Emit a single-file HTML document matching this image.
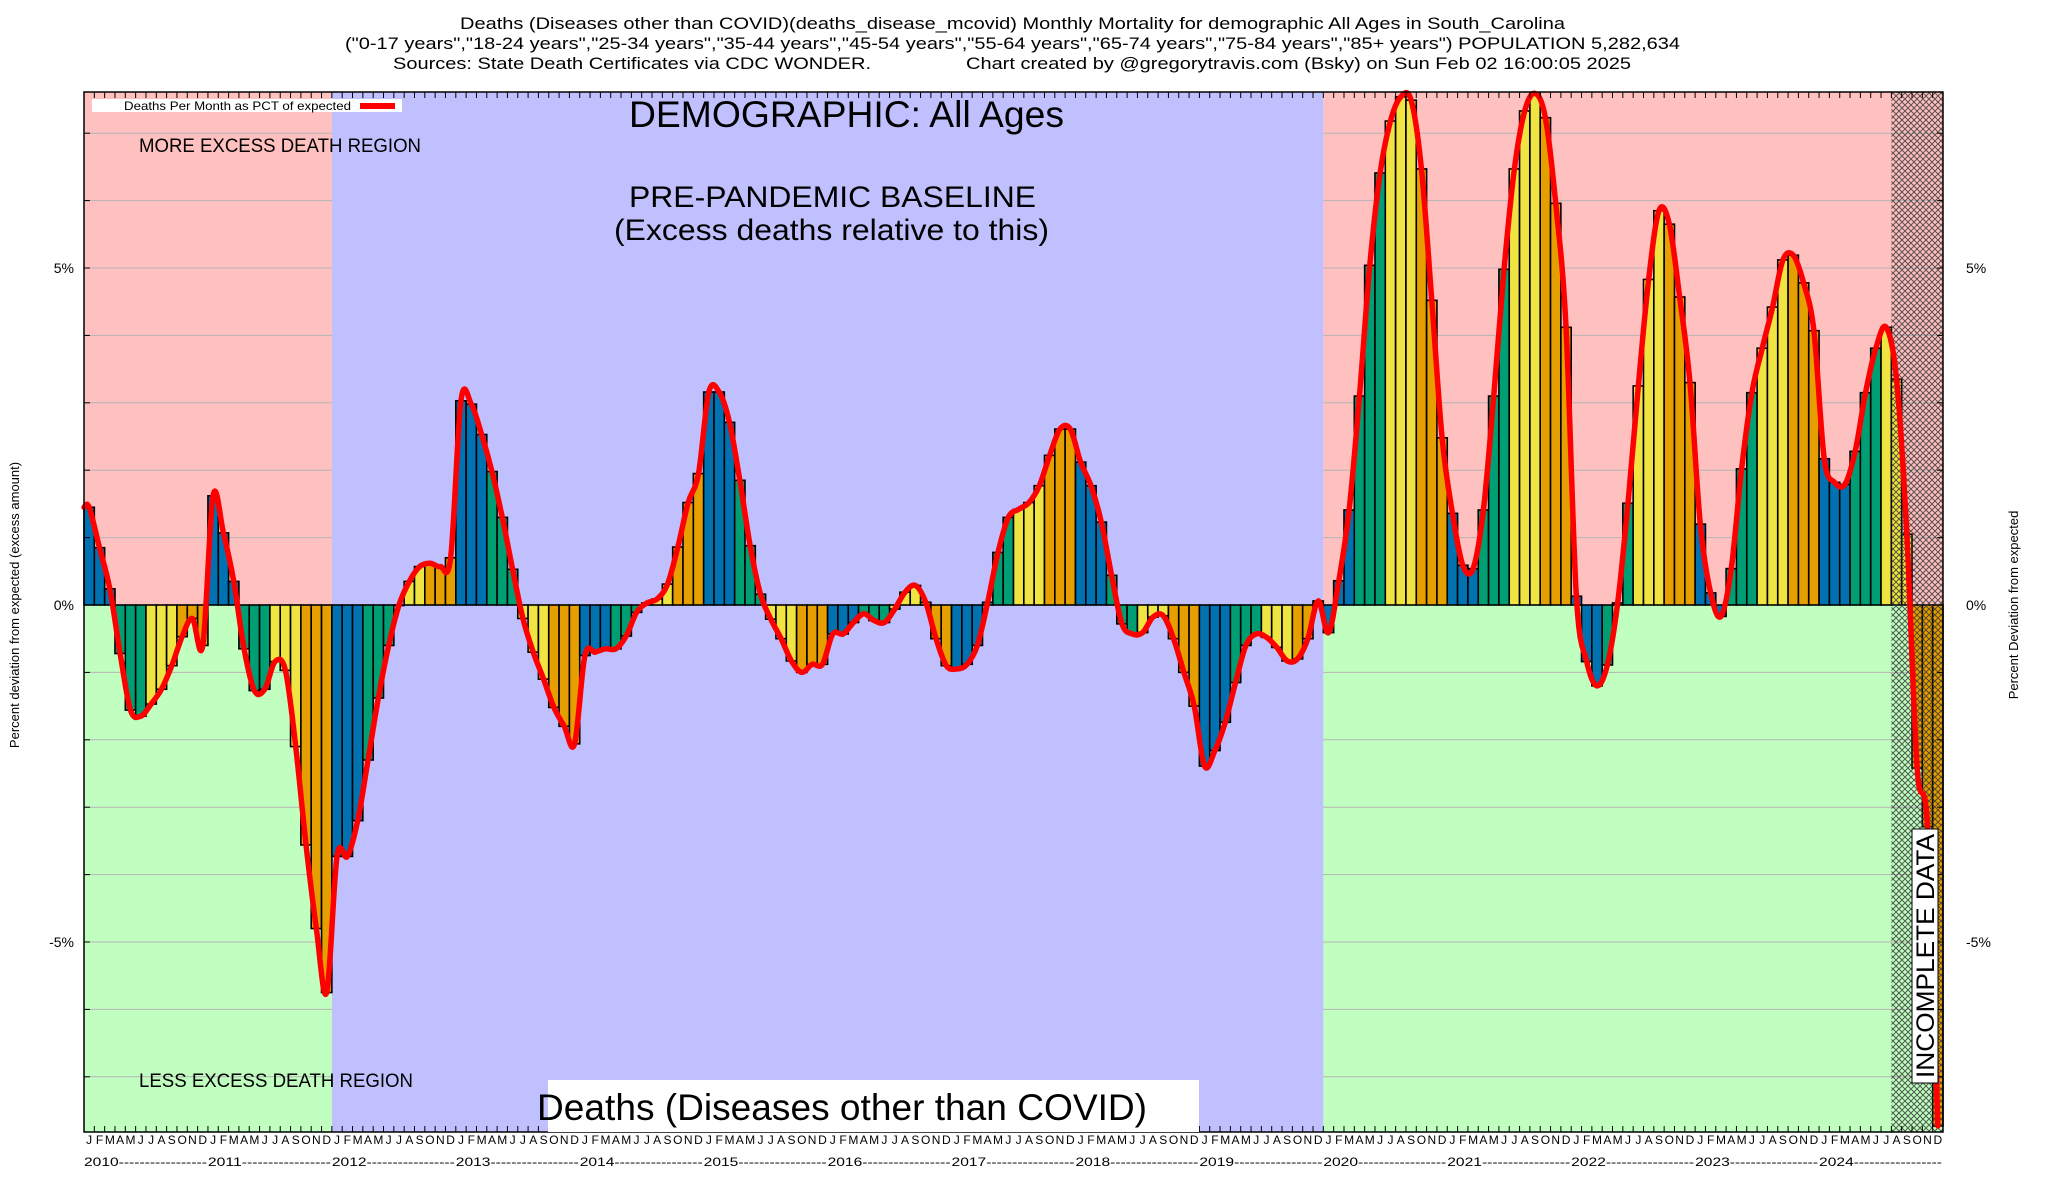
<!DOCTYPE html>
<html><head><meta charset="utf-8"><style>
html,body{margin:0;padding:0;background:#fff;}
svg{display:block;font-family:"Liberation Sans",Arial,sans-serif;}
</style></head><body>
<svg id="chart" width="2048" height="1200" viewBox="0 0 2048 1200" xmlns="http://www.w3.org/2000/svg">
<defs>
<pattern id="hatch" width="6" height="6" patternUnits="userSpaceOnUse">
<path d="M0,0 L6,6 M6,0 L0,6" stroke="#333" stroke-width="1"/>
</pattern>
</defs>
<g font-size="17" fill="#000">
<text x="460" y="29" textLength="1105" lengthAdjust="spacingAndGlyphs">Deaths (Diseases other than COVID)(deaths_disease_mcovid) Monthly Mortality for demographic All Ages in South_Carolina</text>
<text x="345" y="49" textLength="1335" lengthAdjust="spacingAndGlyphs">("0-17 years","18-24 years","25-34 years","35-44 years","45-54 years","55-64 years","65-74 years","75-84 years","85+ years") POPULATION 5,282,634</text>
<text x="393" y="69" textLength="478" lengthAdjust="spacingAndGlyphs">Sources: State Death Certificates via CDC WONDER.</text>
<text x="966" y="69" textLength="665" lengthAdjust="spacingAndGlyphs">Chart created by @gregorytravis.com (Bsky) on Sun Feb 02 16:00:05 2025</text>
</g>
<g id="bg"></g>
<g id="grid"></g>
<g id="bgblue"></g>
<g id="bars"></g>
<g id="hatchg"></g>
<g id="line"></g>
<g id="axes"></g>
<g fill="#000">
<rect x="92" y="99" width="310" height="13" fill="#fff"/>
<text x="124" y="110" font-size="12" textLength="227" lengthAdjust="spacingAndGlyphs">Deaths Per Month as PCT of expected</text>
<rect x="360" y="103" width="35" height="6" fill="#ff0000"/>
<text x="139" y="152" font-size="19" textLength="282" lengthAdjust="spacingAndGlyphs">MORE EXCESS DEATH REGION</text>
<text x="629" y="127" font-size="37" textLength="435" lengthAdjust="spacingAndGlyphs">DEMOGRAPHIC: All Ages</text>
<text x="629" y="207" font-size="30" textLength="407" lengthAdjust="spacingAndGlyphs">PRE-PANDEMIC BASELINE</text>
<text x="614" y="240" font-size="30" textLength="435" lengthAdjust="spacingAndGlyphs">(Excess deaths relative to this)</text>
<text x="139" y="1087" font-size="19" textLength="274" lengthAdjust="spacingAndGlyphs">LESS EXCESS DEATH REGION</text>
<rect x="548" y="1080" width="651" height="52" fill="#fff"/>
<text x="537" y="1120" font-size="37" textLength="610" lengthAdjust="spacingAndGlyphs">Deaths (Diseases other than COVID)</text>
<g transform="translate(1925,956) rotate(-90)">
<rect x="-127" y="-13" width="254" height="26" fill="#fff" stroke="#000" stroke-width="1"/>
<text x="0" y="9" font-size="25" text-anchor="middle" textLength="244" lengthAdjust="spacingAndGlyphs">INCOMPLETE DATA</text>
</g>
<text transform="translate(19,605) rotate(-90)" font-size="13" text-anchor="middle">Percent deviation from expected (excess amount)</text>
<text transform="translate(2018,605) rotate(-90)" font-size="13" text-anchor="middle">Percent Deviation from expected</text>
</g>
</svg>
<script>
const startYear = 2010;
const monthLetters = ["J","F","M","A","M","J","J","A","S","O","N","D"];
const yTickValues = [-5, 0, 5];
const yTickLabels = ["-5%", "0%", "5%"];
const values2010_2013 = [1.45,0.85,0.24,-0.72,-1.56,-1.65,-1.47,-1.25,-0.9,-0.47,-0.2,-0.6,
 1.62,1.07,0.35,-0.65,-1.27,-1.25,-0.84,-0.97,-2.1,-3.56,-4.8,-5.75,
 -3.73,-3.73,-3.2,-2.3,-1.38,-0.6,0.0,0.35,0.57,0.62,0.57,0.7,
 3.03,2.98,2.53,1.98,1.3,0.53,-0.2,-0.7,-1.1,-1.52,-1.8,-2.06];
const values2014_2017 = [-0.75,-0.7,-0.65,-0.65,-0.46,-0.11,0.03,0.09,0.31,0.86,1.52,1.95,
 3.16,3.16,2.71,1.85,0.88,0.16,-0.21,-0.5,-0.83,-1.0,-0.88,-0.88,
 -0.43,-0.43,-0.26,-0.13,-0.23,-0.26,-0.06,0.19,0.29,0.04,-0.5,-0.9,
 -0.95,-0.88,-0.6,0.04,0.78,1.3,1.42,1.52,1.77,2.22,2.61,2.61];
const values2018_2020 = [2.12,1.77,1.23,0.44,-0.28,-0.43,-0.41,-0.18,-0.16,-0.5,-1.0,-1.5,
 -2.39,-2.16,-1.74,-1.15,-0.6,-0.43,-0.48,-0.63,-0.83,-0.8,-0.5,0.06,
 -0.41,0.36,1.41,3.1,5.04,6.41,7.18,7.54,7.49,6.47,4.52,2.48];
const values2021_2024 = [1.36,0.59,0.54,1.41,3.1,4.98,6.47,7.33,7.59,7.23,5.96,4.12,
 0.13,-0.84,-1.2,-0.89,0.03,1.51,3.25,4.83,5.85,5.65,4.57,3.3,
 1.2,0.18,-0.17,0.54,2.02,3.15,3.81,4.42,5.12,5.19,4.78,4.07,
 2.17,1.82,1.79,2.28,3.15,3.81,4.12,3.35,1.05,-2.42,-3.29,-7.73];
const values = values2010_2013.concat(values2014_2017, values2018_2020, values2021_2024);
const baselineStart = 24, baselineEnd = 120, incompleteStart = 175;

const NS = "http://www.w3.org/2000/svg";
const L = 84, R = 1943, T = 92, B = 1132, Y0 = 605, PPU = 67.4;
const N = values.length;
const mw = (R - L) / N;
const xs = i => L + mw * i;
const xc = i => L + mw * (i + 0.5);
const ys = v => Y0 - v * PPU;
function mk(tag, attrs, parent) {
  const e = document.createElementNS(NS, tag);
  for (const k in attrs) e.setAttribute(k, attrs[k]);
  parent.appendChild(e);
  return e;
}
const bg = document.getElementById('bg');
[[0, baselineStart], [baselineEnd, N]].forEach(([a, b]) => {
  const p = mk('rect', {x: xs(a), y: T, width: xs(b) - xs(a), height: Y0 - T, fill: '#ffc0c0'}, bg);
  
  
  const g = mk('rect', {x: xs(a), y: Y0, width: xs(b) - xs(a), height: B - Y0, fill: '#c0ffc0'}, bg);
  
  
});
const grid = document.getElementById('grid');
for (let v = -7; v <= 7; v++) {
  if (v === 0) continue;
  const l = mk('line', {x1: L, x2: R, y1: ys(v), y2: ys(v), stroke: '#b4b4b4', 'stroke-width': 1}, grid);
  
  
}
const bb = mk('rect', {x: xs(baselineStart), y: T, width: xs(baselineEnd) - xs(baselineStart), height: B - T, fill: '#c0c0ff'}, document.getElementById('bgblue'));



const colors = ['#0072b2', '#009e73', '#f0e442', '#e69f00'];
const barsG = document.getElementById('bars');
values.forEach((v, i) => {
  const y1 = ys(Math.max(v, 0)), y2 = ys(Math.min(v, 0));
  const r = mk('rect', {x: xs(i), y: y1, width: mw, height: Math.max(y2 - y1, 0.5), fill: colors[Math.floor((i % 12) / 3)], stroke: '#000', 'stroke-width': 1.6}, barsG);
  
  
});
const zl = mk('line', {x1: L, x2: R, y1: Y0, y2: Y0, stroke: '#000', 'stroke-width': 1}, barsG);



const hz = mk('rect', {x: xs(incompleteStart), y: T, width: R - xs(incompleteStart), height: B - T, fill: 'url(#hatch)', opacity: 0.8}, document.getElementById('hatchg'));



const pts = values.map((v, i) => [xc(i), ys(v)]);
pts.unshift([L, ys(values[0])]);
let d = 'M' + pts[0][0] + ',' + pts[0][1];
for (let i = 0; i < pts.length - 1; i++) {
  const p0 = pts[Math.max(i - 1, 0)], p1 = pts[i], p2 = pts[i + 1], p3 = pts[Math.min(i + 2, pts.length - 1)];
  const c1 = [p1[0] + (p2[0] - p0[0]) / 6, p1[1] + (p2[1] - p0[1]) / 6];
  const c2 = [p2[0] - (p3[0] - p1[0]) / 6, p2[1] - (p3[1] - p1[1]) / 6];
  d += ' C' + c1[0] + ',' + c1[1] + ' ' + c2[0] + ',' + c2[1] + ' ' + p2[0] + ',' + p2[1];
}
const path = mk('path', {d: d, fill: 'none', stroke: '#ff0000', 'stroke-width': 5.5, 'stroke-linejoin': 'round', 'stroke-linecap': 'round'}, document.getElementById('line'));



const ax = document.getElementById('axes');
const frame = mk('rect', {x: L, y: T, width: R - L, height: B - T, fill: 'none', stroke: '#000', 'stroke-width': 1.5}, ax);


for (let i = 0; i <= N; i++) {
  const x = xs(i);
  const t1 = mk('line', {x1: x, x2: x, y1: T, y2: T + 6, stroke: '#000', 'stroke-width': 1}, ax);
  
  
  const t2 = mk('line', {x1: x, x2: x, y1: B, y2: B - 6, stroke: '#000', 'stroke-width': 1}, ax);
  
  
}
for (let v = -7; v <= 7; v++) {
  const a = mk('line', {x1: L, x2: L + 6, y1: ys(v), y2: ys(v), stroke: '#000', 'stroke-width': 1}, ax);
  
  
  const b = mk('line', {x1: R, x2: R - 6, y1: ys(v), y2: ys(v), stroke: '#000', 'stroke-width': 1}, ax);
  
  
}
yTickValues.forEach((v, k) => {
  const t = mk('text', {x: 74, y: ys(v) + 5, 'font-size': 14, 'text-anchor': 'end'}, ax);
  t.textContent = yTickLabels[k];
  
  
  const t2 = mk('text', {x: 1966, y: ys(v) + 5, 'font-size': 14}, ax);
  t2.textContent = yTickLabels[k];
  
  
});
for (let i = 0; i < N; i++) {
  const t = mk('text', {x: xc(i), y: 1144, 'font-size': 12, 'text-anchor': 'middle'}, ax);
  t.textContent = monthLetters[i % 12];
  
  
}
for (let y = 0; y < N / 12; y++) {
  const t = mk('text', {x: xs(y * 12), y: 1166, 'font-size': 12, textLength: mw * 12 - 1, lengthAdjust: 'spacingAndGlyphs'}, ax);
  t.textContent = (startYear + y) + '-----------------';
  
  
}
</script>
</body></html>
